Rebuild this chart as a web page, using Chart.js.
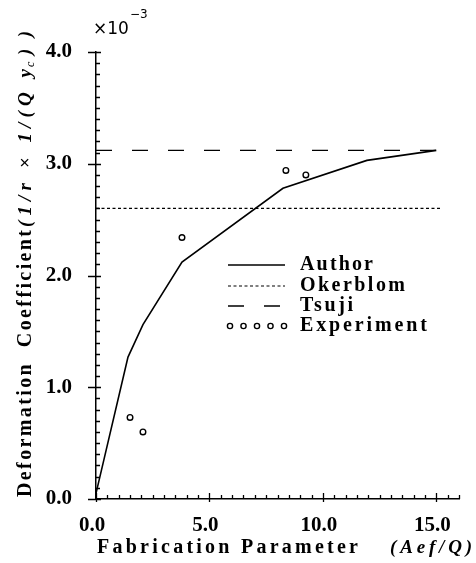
<!DOCTYPE html>
<html>
<head>
<meta charset="utf-8">
<script src="https://cdn.jsdelivr.net/npm/chart.js@4.4.1/dist/chart.umd.min.js"></script>
<style>
  body { margin: 0; background: #fff; }
  #wrap { width: 476px; height: 563px; }
</style>
</head>
<body>
<div id="wrap"><canvas id="chart"></canvas></div>
<script>
// values (y in units of 1e-3)
const authorX = [0, 1.41, 2.07, 3.79, 8.24, 11.94, 15.0];
const authorY = [0.05, 1.27, 1.56, 2.12, 2.78, 3.03, 3.12];
const okerblomX = [0, 15.2];
const okerblomY = [2.60, 2.60];
const tsujiX = [0, 15.2];
const tsujiY = [3.12, 3.12];
const expX = [1.50, 2.07, 3.79, 8.37, 9.25];
const expY = [0.73, 0.60, 2.34, 2.94, 2.90];
const xTicks = [0, 5, 10, 15];
const yTicks = [0, 1, 2, 3, 4];
const legendNames = ["Author", "Okerblom", "Tsuji", "Experiment"];

const SERIF = "Liberation Serif, serif";

function pts(xs, ys) {
  return xs.map((x, i) => ({ x: x, y: ys[i] }));
}

// draw text stretched with letter spacing to a given width
function spaced(ctx, text, x, y, width) {
  ctx.letterSpacing = "0px";
  const natural = ctx.measureText(text).width;
  const sp = text.length > 1 ? (width - natural) / (text.length - 1) : 0;
  ctx.letterSpacing = sp + "px";
  ctx.fillText(text, x, y);
  ctx.letterSpacing = "0px";
}

const paperPlugin = {
  id: "paper",
  afterDraw(chart) {
    const ctx = chart.ctx;
    const xs = chart.scales.x, ys = chart.scales.y;
    const left = chart.chartArea.left, bottom = chart.chartArea.bottom;
    ctx.save();
    ctx.strokeStyle = "#000";
    ctx.lineWidth = 1.3;
    ctx.beginPath();
    for (let i = 0; i <= 40; i++) {
      const py = Math.round(ys.getPixelForValue(i / 10)) + 0.5;
      if (i % 10 === 0) { ctx.moveTo(left - 8, py); ctx.lineTo(left + 5, py); }
      else { ctx.moveTo(left, py); ctx.lineTo(left + 4, py); }
    }
    for (let i = 0; i <= 32; i++) {
      const px = Math.round(xs.getPixelForValue(i / 2)) + 0.5;
      if (i % 10 === 0) { ctx.moveTo(px, bottom + 3); ctx.lineTo(px, bottom - 6); }
      else { ctx.moveTo(px, bottom); ctx.lineTo(px, bottom - 4); }
    }
    ctx.stroke();

    ctx.fillStyle = "#000";
    ctx.textBaseline = "middle";
    ctx.textAlign = "left";

    // x axis title
    ctx.font = "bold 20px " + SERIF;
    spaced(ctx, "Fabrication Parameter", 97, 548, 261);
    ctx.font = "italic bold 19px " + SERIF;
    spaced(ctx, "(Aef/Q)", 390, 548, 82);

    // y axis title
    ctx.save();
    ctx.translate(26, 497);
    ctx.rotate(-Math.PI / 2);
    ctx.font = "bold 20px " + SERIF;
    spaced(ctx, "Deformation  Coefficient", 0, 0, 267);
    ctx.font = "italic bold 19px " + SERIF;
    spaced(ctx, "(1/r \u00d7 1/(Q y", 270, 0, 158);
    ctx.font = "italic 12px " + SERIF;
    ctx.fillText("c", 430, 5);
    ctx.font = "italic bold 19px " + SERIF;
    spaced(ctx, "))", 442, 0, 24);
    ctx.restore();

    // exponent
    ctx.font = "17px 'DejaVu Sans', sans-serif";
    ctx.fillText("\u00d710", 93, 30);
    ctx.font = "12px 'DejaVu Sans', sans-serif";
    ctx.fillText("\u22123", 130, 15);

    // legend
    const rows = [265, 286, 306, 326];
    const widths = [73, 105, 53, 127];
    chart.data.datasets.forEach((ds, i) => {
      const y = rows[i];
      ctx.strokeStyle = "#000";
      ctx.lineWidth = ds.borderWidth;
      if (ds.showLine === false) {
        for (let k = 0; k < 5; k++) {
          ctx.beginPath();
          ctx.arc(230 + k * 13.5, y, 2.6, 0, Math.PI * 2);
          ctx.fillStyle = "#fff";
          ctx.fill();
          ctx.lineWidth = 1.4;
          ctx.stroke();
        }
      } else {
        ctx.setLineDash(ds.borderDash || []);
        ctx.beginPath();
        ctx.moveTo(228, y);
        ctx.lineTo(285, y);
        ctx.stroke();
        ctx.setLineDash([]);
      }
      ctx.fillStyle = "#000";
      ctx.font = "bold 20px " + SERIF;
      spaced(ctx, ds.label, 300, y, widths[i]);
    });
    ctx.restore();
  }
};

new Chart(document.getElementById("chart"), {
  type: "scatter",
  data: {
    datasets: [
      {
        label: legendNames[0],
        data: pts(authorX, authorY),
        showLine: true,
        borderColor: "#000",
        borderWidth: 1.6,
        pointRadius: 0,
        tension: 0
      },
      {
        label: legendNames[1],
        data: pts(okerblomX, okerblomY),
        showLine: true,
        borderColor: "#000",
        borderWidth: 1.2,
        borderDash: [3, 2.5],
        pointRadius: 0
      },
      {
        label: legendNames[2],
        data: pts(tsujiX, tsujiY),
        showLine: true,
        borderColor: "#000",
        borderWidth: 1.3,
        borderDash: [16, 20],
        pointRadius: 0
      },
      {
        label: legendNames[3],
        data: pts(expX, expY),
        showLine: false,
        borderColor: "#000",
        backgroundColor: "#fff",
        borderWidth: 1.4,
        pointRadius: 2.8
      }
    ]
  },
  options: {
    responsive: true,
    maintainAspectRatio: false,
    animation: false,
    layout: { padding: { top: 52, right: 17, left: 0, bottom: 0 } },
    plugins: {
      legend: { display: false },
      tooltip: { enabled: false }
    },
    scales: {
      x: {
        type: "linear",
        min: 0,
        max: 16,
        afterBuildTicks: (s) => { s.ticks = xTicks.map(v => ({ value: v })); },
        afterFit: (s) => { s.height = 64; },
        grid: { display: false, drawTicks: false },
        border: { display: true, color: "#000", width: 1.5 },
        ticks: {
          color: "#000",
          padding: 14,
          labelOffset: -4,
          maxRotation: 0,
          font: { family: SERIF, size: 21, weight: "bold" },
          callback: (v) => Number(v).toFixed(1)
        }
      },
      y: {
        type: "linear",
        min: 0,
        max: 4,
        afterBuildTicks: (s) => { s.ticks = yTicks.map(v => ({ value: v })); },
        afterFit: (s) => { s.width = 96; },
        grid: { display: false, drawTicks: false },
        border: { display: true, color: "#000", width: 1.5 },
        ticks: {
          color: "#000",
          padding: 24,
          font: { family: SERIF, size: 21, weight: "bold" },
          callback: (v) => Number(v).toFixed(1)
        }
      }
    }
  },
  plugins: [paperPlugin]
});
</script>
</body>
</html>
